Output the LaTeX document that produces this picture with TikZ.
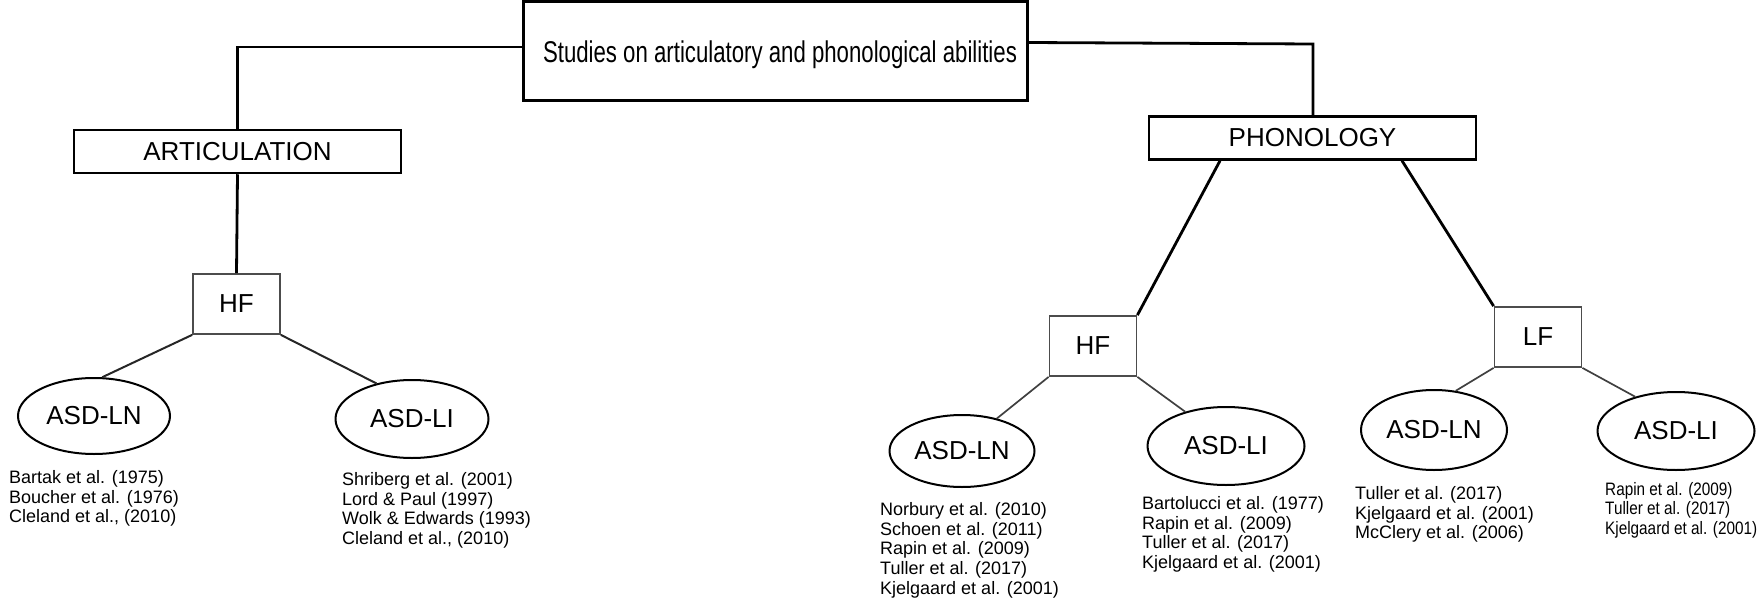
\documentclass[tikz,border=0pt]{standalone}
\usepackage{fontspec}
\setmainfont{Liberation Sans}
\newfontfamily\narrowfont[FakeStretch=0.74]{Liberation Sans}
\newfontfamily\condfont[FakeStretch=0.85]{Liberation Sans}
\usetikzlibrary{shapes.geometric}
\newcommand{\firstline}{\rule{0pt}{14pt}}
\begin{document}
\begin{tikzpicture}[x=1pt,y=-1pt,
  thickline/.style={line width=2.8pt,black},
  thinline/.style={line width=1.7pt,black!75},
  darkthin/.style={line width=2pt,black!85},
  titlebox/.style={draw,line width=3pt,inner sep=0pt},
  catbox/.style={draw,line width=2.5pt,inner sep=0pt,minimum width=327pt,minimum height=43pt,font=\fontsize{26}{30}\selectfont},
  fbox/.style={draw=black!70,line width=1.8pt,inner sep=0pt,minimum width=87pt,minimum height=60pt,font=\fontsize{26}{30}\selectfont},
  grp/.style={ellipse,draw,line width=2pt,inner sep=0pt,font=\fontsize{26}{30}\selectfont},
  refs/.style={inner sep=0pt,anchor=north west,align=left,font=\fontsize{18}{19.6}\selectfont},
]
\useasboundingbox (0,0) rectangle (1760,599);

% main boxes
\node[titlebox,minimum width=504pt,minimum height=99pt] (title) at (775,51.5)
  {\hspace{10pt}\raisebox{-11.5pt}[0pt][0pt]{\narrowfont\fontsize{30}{34}\selectfont Studies on articulatory and phonological abilities}};
\node[catbox] (artic) at (237.5,151.5) {ARTICULATION};
\node[catbox] (phon) at (1312.5,138) {PHONOLOGY};

% functioning boxes
\node[fbox] (hfl) at (236.5,304) {HF};
\node[fbox] (hfm) at (1093,346) {HF};
\node[fbox] (lf) at (1538,337) {LF};

% ellipses
\node[grp,minimum width=152pt,minimum height=76pt] (lnl) at (94,416) {ASD-LN};
\node[grp,minimum width=153pt,minimum height=78pt] (lil) at (412,419) {ASD-LI};
\node[grp,minimum width=145pt,minimum height=72pt] (lnm) at (962,451) {ASD-LN};
\node[grp,minimum width=157pt,minimum height=78pt] (lim) at (1226,446) {ASD-LI};
\node[grp,minimum width=146pt,minimum height=80pt] (lnf) at (1434,430) {ASD-LN};
\node[grp,minimum width=157pt,minimum height=78pt] (lif) at (1676,431) {ASD-LI};

% references (top = first baseline - 14pt)
\node[refs] (rlnl) at (9,469.4) {\firstline Bartak et al. (1975)\\Boucher et al. (1976)\\Cleland et al., (2010)};
\node[refs] (rlil) at (342,471.4) {\firstline Shriberg et al. (2001)\\Lord \& Paul (1997)\\Wolk \& Edwards (1993)\\Cleland et al., (2010)};
\node[refs] (rlnm) at (880,501.4) {\firstline Norbury et al. (2010)\\Schoen et al. (2011)\\Rapin et al. (2009)\\Tuller et al. (2017)\\Kjelgaard et al. (2001)};
\node[refs] (rlim) at (1142,495.4) {\firstline Bartolucci et al. (1977)\\Rapin et al. (2009)\\Tuller et al. (2017)\\Kjelgaard et al. (2001)};
\node[refs] (rlnf) at (1355,485.4) {\firstline Tuller et al. (2017)\\Kjelgaard et al. (2001)\\McClery et al. (2006)};
\node[refs,font=\condfont\fontsize{18}{19.2}\selectfont] (rlif) at (1605,481.4) {\firstline Rapin et al. (2009)\\Tuller et al. (2017)\\Kjelgaard et al. (2001)};

% connectors
\coordinate (rc) at (1313,44);
\draw[thickline] ([yshift=4.5pt]title.west) -| (artic.north);
\draw[thickline] ([yshift=9pt]title.east) -- (rc) -- (rc |- phon.north);
\draw[thickline] (artic.south) -- (hfl.north);
\draw[thickline] ([xshift=-92.5pt]phon.south) -- (hfm.north east);
\draw[thickline] ([xshift=89.5pt]phon.south) -- (lf.north west);

\draw[darkthin] (hfl.south west) -- (lnl.78);
\draw[darkthin] (hfl.south east) -- (lil.135);
\draw[thinline] (hfm.south west) -- (lnm.43);
\draw[thinline] (hfm.south east) -- (lim.140);
\draw[thinline] (lf.south west) -- (lnf.61);
\draw[thinline] (lf.south east) -- (lif.140);
\end{tikzpicture}
\end{document}
